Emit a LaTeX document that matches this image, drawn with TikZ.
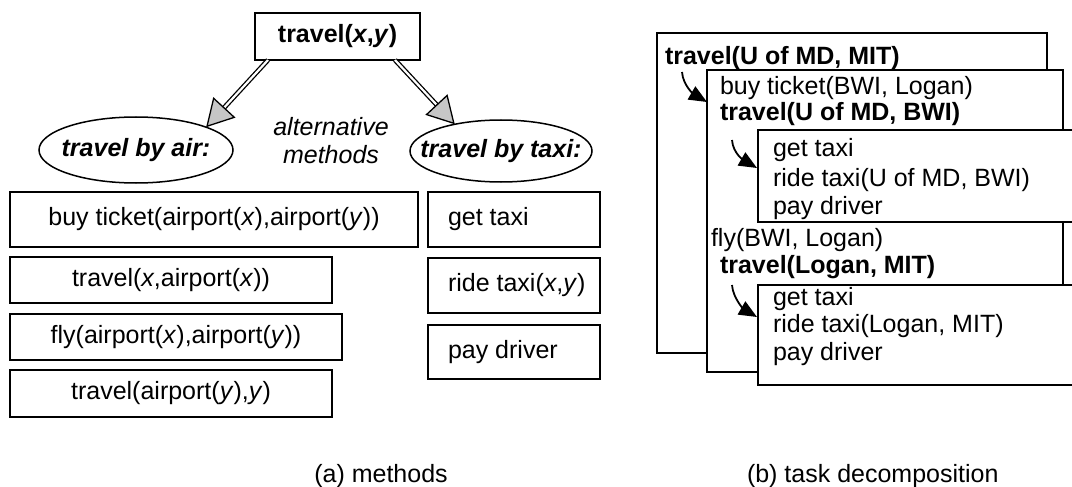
\documentclass[tikz,border=0pt]{standalone}
\usepackage{fontspec}
\setmainfont{Liberation Sans}
\usetikzlibrary{arrows.meta,shapes.geometric}
\newcommand\taxitxt[1]{\makebox[172pt][l]{\hspace{20pt}#1}}
\begin{document}
\begin{tikzpicture}[x=1pt,y=-1pt,
  every node/.style={font=\fontsize{25}{28}\selectfont, inner sep=0pt, outer sep=0pt},
  mbox/.style={draw, line width=1.6pt, fill=white, align=center},
  tbox/.style={draw, line width=1.6pt, fill=white, minimum width=172pt},
  meth/.style={draw, ellipse, line width=1.5pt},
  bigarrow/.style={double, double distance=2.2pt, line width=1.3pt, -{Triangle[length=27pt,width=30pt,fill=gray!45,line width=1.3pt]}},
  subarrow/.style={line width=1.8pt, -{Triangle[length=18pt,width=15pt]}},
  textline/.style={anchor=base west},
  panel/.style={line width=1.6pt}]
\useasboundingbox (0,0) rectangle (1072,487);

% ---------- (a) methods ----------
\node[mbox, minimum width=165pt, minimum height=47pt] (top) at (337.5,36.5) {\textbf{travel(\textit{x},\textit{y})}};
\node[meth, minimum width=194pt, minimum height=66pt] (air) at (136,150) {\makebox[0pt]{\textbf{\textit{travel by air:}}}};
\node[meth, minimum width=182pt, minimum height=62pt] (taxi) at (501,151) {\makebox[0pt]{\textbf{\textit{travel by taxi:}}}};
\node[align=center, font=\fontsize{25}{28}\selectfont\itshape] (alt) at (331,141) {alternative\\methods};

\draw[bigarrow] ([xshift=13pt]top.south west) -- (air.18);
\draw[bigarrow] ([xshift=-25pt]top.south east) -- (taxi.150);

\node[mbox, minimum width=408pt, minimum height=55pt] (bt) at (214,219.5) {buy ticket(airport(\textit{x}),airport(\textit{y}))};
\node[mbox, minimum width=322pt, minimum height=46pt] (ta) at (171,280) {travel(\textit{x},airport(\textit{x}))};
\node[mbox, minimum width=332pt, minimum height=46pt] (fl) at (176,337) {fly(airport(\textit{x}),airport(\textit{y}))};
\node[mbox, minimum width=322pt, minimum height=47pt] (tb) at (171,393.5) {travel(airport(\textit{y}),\textit{y})};

\node[tbox, minimum height=55pt] (gt) at (514,219.5) {\taxitxt{get taxi}};
\node[tbox, minimum height=55pt] (rt) at (514,285.5) {\taxitxt{ride taxi(\textit{x},\textit{y})}};
\node[tbox, minimum height=54pt] (pd) at (514,352) {\taxitxt{pay driver}};

\node[anchor=base] (capa) at (381,482) {(a) methods};

% ---------- (b) task decomposition ----------
\filldraw[panel, fill=white] (657,33) rectangle (1047,353);
\filldraw[panel, fill=white] (707,70) rectangle (1063,372);
\fill[white] (758,130) rectangle (1072,222);
\draw[panel] (1072,130) -- (758,130) -- (758,222) -- (1072,222);
\fill[white] (758,285) rectangle (1072,385);
\draw[panel] (1072,285) -- (758,285) -- (758,385) -- (1072,385);

\node[textline] (r1) at (665,65) {\textbf{travel(U of MD, MIT)}};
\node[textline] (r2) at (720,95) {buy ticket(BWI, Logan)};
\node[textline] (r3) at (720,121) {\textbf{travel(U of MD, BWI)}};
\node[textline] (r4) at (773,157) {get taxi};
\node[textline] (r5) at (773,186) {ride taxi(U of MD, BWI)};
\node[textline] (r6) at (773,214) {pay driver};
\node[textline] (r7) at (711,246) {fly(BWI, Logan)};
\node[textline] (r8) at (720,273) {\textbf{travel(Logan, MIT)}};
\node[textline] (r9) at (773,305) {get taxi};
\node[textline] (r10) at (773,332) {ride taxi(Logan, MIT)};
\node[textline] (r11) at (773,360) {pay driver};

\coordinate (s1) at (682,72);  \coordinate (e1) at (707,102);
\coordinate (s2) at (732,140); \coordinate (e2) at (757,168);
\coordinate (s3) at (732,285); \coordinate (e3) at (757,317);
\draw[subarrow] (s1) .. controls +(1,14) and +(-12,-7) .. (e1);
\draw[subarrow] (s2) .. controls +(1,14) and +(-12,-7) .. (e2);
\draw[subarrow] (s3) .. controls +(1,14) and +(-12,-7) .. (e3);

\node[anchor=base west] (capb) at (747,482) {(b) task decomposition};
\end{tikzpicture}
\end{document}
